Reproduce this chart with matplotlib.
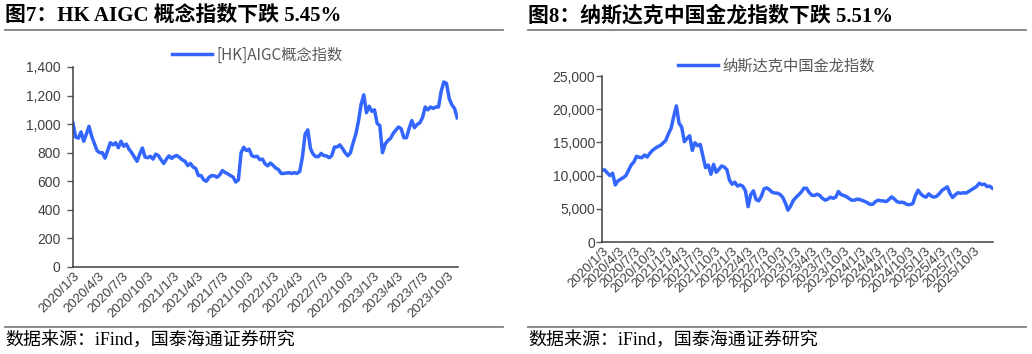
"""
图7 / 图8：左右两幅指数走势图（[HK]AIGC概念指数、纳斯达克中国金龙指数），输出 out.png。
"""
import matplotlib
matplotlib.use("Agg")
import matplotlib.pyplot as plt
import pandas as pd
from matplotlib.lines import Line2D
from matplotlib.ticker import FuncFormatter, MultipleLocator
from matplotlib.transforms import ScaledTranslation

plt.rcParams["font.family"] = ["Liberation Sans", "Noto Sans CJK SC"]
plt.rcParams["axes.unicode_minus"] = False

W, H = 1032, 354
LINE_COLOR = "#3366FF"
TEXT_GRAY = "#404040"
SERIF_CJK = ["Liberation Serif", "Noto Sans CJK SC"]

# ---- 图7 数据 ----
aigc_start, aigc_end = "2020-01-03", "2023-11-06"
aigc_values = [
    1006, 910, 902, 945, 880, 930, 985, 915, 865, 815, 800, 800, 762, 815, 870, 855,
    870, 835, 880, 845, 860, 825, 800, 770, 740, 790, 833, 770, 765, 775, 755, 790,
    780, 750, 725, 755, 778, 760, 775, 780, 765, 750, 740, 710, 725, 700, 690, 640,
    640, 610, 600, 628, 640, 638, 628, 645, 675, 662, 652, 640, 630, 595, 610, 800,
    838, 815, 825, 780, 772, 775, 752, 755, 722, 708, 728, 712, 692, 682, 655, 655,
    658, 660, 655, 660, 655, 670, 770, 930, 960, 830, 790, 772, 773, 795, 780, 778,
    765, 780, 840, 840, 855, 830, 800, 778, 800, 870, 930, 1020, 1140, 1205, 1080, 1125,
    1090, 1100, 1005, 990, 800, 860, 885, 900, 935, 958, 980, 968, 905, 905, 970, 1025,
    975, 998, 1010, 1045, 1120, 1100, 1120, 1110, 1120, 1120, 1230, 1295, 1285, 1180, 1135, 1110,
    1045,
]
aigc_ticks = [
    "2020/1/3", "2020/4/3", "2020/7/3", "2020/10/3", "2021/1/3", "2021/4/3",
    "2021/7/3", "2021/10/3", "2022/1/3", "2022/4/3", "2022/7/3", "2022/10/3",
    "2023/1/3", "2023/4/3", "2023/7/3", "2023/10/3",
]

# ---- 图8 数据 ----
dragon_start, dragon_end = "2020-01-03", "2026-01-20"
dragon_values = [
    10840, 10850, 10400, 10000, 10350, 8600, 9200, 9450, 9700, 10000, 10800, 11600,
    12050, 12900, 12750, 12700, 13100, 12800, 13350, 13800, 14100, 14350, 14550, 14900,
    15300, 16300, 17120, 18900, 20500, 17900, 17300, 15110, 15600, 16000, 13800, 14950,
    14500, 14700, 12900, 11200, 11600, 10200, 11700, 10500, 10950, 11450, 11300, 10900,
    9300, 8700, 9000, 8430, 8600, 8400, 7700, 5320, 7150, 7700, 6400, 6200,
    6900, 8000, 8150, 7900, 7500, 7380, 7350, 7180, 6750, 5900, 4800, 5400,
    6250, 6700, 7100, 7500, 8100, 8100, 7450, 7050, 7000, 7200, 7000, 6580,
    6300, 6450, 6750, 6580, 6750, 7600, 7150, 7000, 6850, 6550, 6300, 6300,
    6450, 6400, 6250, 6100, 5900, 5650, 5700, 6100, 6300, 6200, 6180, 6080,
    6400, 6800, 6500, 6100, 5950, 6000, 5850, 5620, 5650, 5780, 7000, 7800,
    7250, 6900, 6750, 7250, 6900, 6750, 6900, 7280, 7780, 8050, 8300, 7300,
    6700, 7100, 7420, 7330, 7420, 7350, 7600, 7850, 8100, 8350, 8850, 8650,
    8700, 8350, 8400, 8080,
]
dragon_ticks = [
    "2020/1/3", "2020/4/3", "2020/7/3", "2020/10/3", "2021/1/3", "2021/4/3",
    "2021/7/3", "2021/10/3", "2022/1/3", "2022/4/3", "2022/7/3", "2022/10/3",
    "2023/1/3", "2023/4/3", "2023/7/3", "2023/10/3", "2024/1/3", "2024/4/3",
    "2024/7/3", "2024/10/3", "2025/1/3", "2025/4/3", "2025/7/3", "2025/10/3",
]


def fx(x):
    return x / W


def fy(y):
    return 1 - y / H


def rule(fig, x0, x1, y):
    fig.add_artist(Line2D([fx(x0), fx(x1)], [fy(y), fy(y)], color="#808080", lw=1.3))


def draw_panel(fig, box, values, start, end, ticks, ymax, ystep, label,
               legend_at, title, title_x, rule_span, ylabel_pad):
    x0, y0, x1, y1 = box
    ax = fig.add_axes([fx(x0), fy(y1), fx(x1 - x0), (y1 - y0) / H])
    dates = pd.date_range(start, end, periods=len(values))
    ax.plot(dates, values, color=LINE_COLOR, lw=2.5, label=label)

    ax.set_xlim(dates[0], dates[-1] + pd.Timedelta(days=3))
    ax.set_ylim(0, ymax)
    ax.yaxis.set_major_locator(MultipleLocator(ystep))
    ax.yaxis.set_major_formatter(FuncFormatter(lambda v, _: f"{v:,.0f}"))

    tick_dates = pd.to_datetime(ticks, format="%Y/%m/%d")
    ax.set_xticks(tick_dates)
    ax.set_xticklabels(ticks, rotation=45, ha="right", va="top",
                       rotation_mode="anchor", fontsize=9.5, color=TEXT_GRAY)
    # 标签整体往右下挪一点，对齐原图
    shift = ScaledTranslation(9 / 100, -4 / 100, fig.dpi_scale_trans)
    for lab in ax.get_xticklabels():
        lab.set_transform(lab.get_transform() + shift)

    ax.tick_params(axis="x", length=0, pad=2)
    ax.tick_params(axis="y", length=4, width=1, color="#595959",
                   labelsize=10, labelcolor=TEXT_GRAY, pad=ylabel_pad)
    for side in ("top", "right"):
        ax.spines[side].set_visible(False)
    for side in ("left", "bottom"):
        ax.spines[side].set_color("#404040")
        ax.spines[side].set_linewidth(1.1)

    fig.legend(loc="center left", bbox_to_anchor=(fx(legend_at[0]), fy(legend_at[1])),
               frameon=False, handlelength=2.6, handletextpad=0.3, borderpad=0,
               borderaxespad=0, prop={"family": "Noto Sans CJK SC", "size": 11},
               labelcolor="#595959", handles=ax.get_lines())

    fig.text(fx(title_x), fy(16), title, fontsize=15, fontweight="bold",
             family=SERIF_CJK, va="center", ha="left")
    rule(fig, rule_span[0], rule_span[1], 30)
    rule(fig, rule_span[0], rule_span[1], 327)
    fig.text(fx(title_x), fy(340), "数据来源：iFind，国泰海通证券研究", fontsize=13,
             family=SERIF_CJK, va="center", ha="left")
    return ax


fig = plt.figure(figsize=(W / 100, H / 100), dpi=100)

draw_panel(fig, (73, 67, 458, 267), aigc_values, aigc_start, aigc_end, aigc_ticks,
           1400, 200, "[HK]AIGC概念指数", (172, 55),
           "图7：HK AIGC 概念指数下跌 5.45%", 5, (5, 503), 5)
draw_panel(fig, (602, 76, 993, 242), dragon_values, dragon_start, dragon_end, dragon_ticks,
           25000, 5000, "纳斯达克中国金龙指数", (678, 66),
           "图8：纳斯达克中国金龙指数下跌 5.51%", 528, (528, 1026), 1)

fig.savefig("out.png", dpi=100)
